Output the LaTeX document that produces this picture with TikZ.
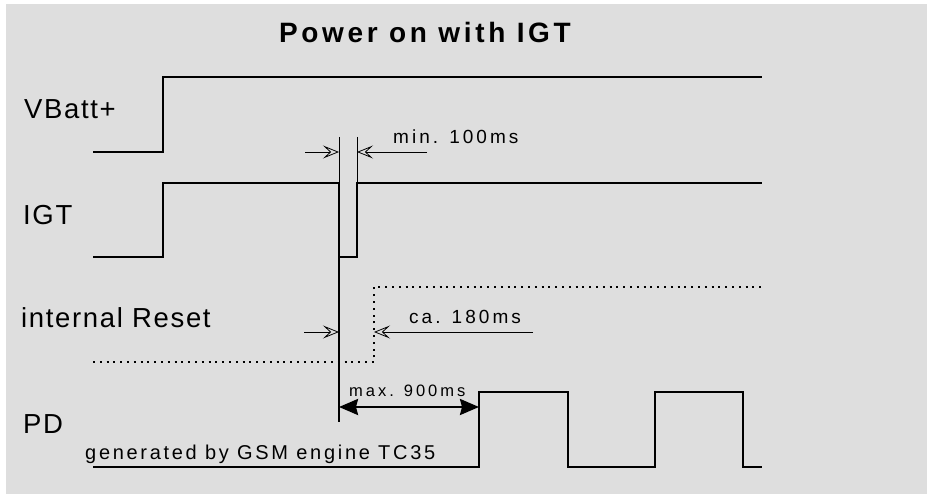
\documentclass[tikz,border=0pt]{standalone}
\usepackage{fontspec}
\setmainfont{Liberation Sans}
\usetikzlibrary{arrows.meta}
\definecolor{panelgray}{RGB}{222,222,222}

\begin{document}
\begin{tikzpicture}[
    x=1pt, y=-1pt,
    sig/.style={line width=1.5pt, line join=miter},
    rst/.style={line width=1.8pt, dash pattern=on 2pt off 4.8pt},
    guide/.style={line width=0.7pt},
    dimarrow/.style={line width=0.8pt, -{Stealth[length=16pt, width=13pt, inset=7pt, line width=0.8pt, open]}},
    spanarrow/.style={line width=2.4pt, {Stealth[length=19pt, width=16pt, inset=2pt]}-{Stealth[length=19pt, width=16pt, inset=2pt]}},
    title/.style={anchor=base west, inner sep=0pt, font=\fontsize{28}{32}\selectfont\bfseries\addfontfeatures{LetterSpace=13}},
    lbl/.style={anchor=base west, inner sep=0pt, font=\fontsize{27.5}{30}\selectfont\addfontfeatures{LetterSpace=6}},
    note/.style={anchor=base west, inner sep=0pt, font=\fontsize{19}{22}\selectfont\addfontfeatures{LetterSpace=16}}
]
\useasboundingbox (0,0) rectangle (927,494);
\fill[white] (0,0) rectangle (927,494);
\fill[panelgray] (6,4) rectangle (927,494);

\node[title] (head) at (279,43) {Power on with IGT};

\node[lbl] (vbatt) at (24,119) {VBatt+};
\node[lbl] (igt) at (23,225) {IGT};
\node[lbl] (reset) at (21,328) {internal Reset};
\node[lbl] (pd) at (23,434) {PD};
\node[lbl, font=\fontsize{20}{24}\selectfont\addfontfeatures{LetterSpace=13.5}] (gsm) at (85,459) {generated by GSM engine TC35};

\coordinate (igtfall) at (339,152);
\coordinate (igtrise) at (357,152);
\coordinate (minl) at (305,152);
\coordinate (minr) at (427,152);
\coordinate (rstl) at (339,332);
\coordinate (rstr) at (374,332);
\coordinate (cal) at (304,332);
\coordinate (car) at (533,332);
\coordinate (pdstart) at (339,407);
\coordinate (pdrise) at (479,407);

\draw[sig] (93,152) -- (163,152) -- (163,77) -- (762,77);
\draw[sig] (93,257) -- (163,257) -- (163,183) -- (339,183) -- (339,257) -- (357,257) -- (357,183) -- (762,183);
\draw[sig] (339,257) -- (339,422);
\draw[rst] (93,362) -- (374,362) -- (374,287) -- (762,287);
\draw[sig] (93,467) -- (479,467) -- (479,392) -- (568,392) -- (568,467) -- (655,467) -- (655,392) -- (743,392) -- (743,467) -- (762,467);

\draw[guide] (339,137) -- (339,183);
\draw[guide] (357,137) -- (357,183);

\draw[dimarrow] (minl) -- (igtfall);
\draw[dimarrow] (minr) -- (igtrise);
\node[note] (minlbl) at (393,144) {min. 100ms};

\draw[dimarrow] (cal) -- (rstl);
\draw[dimarrow] (car) -- (rstr);
\node[note] (calbl) at (409,324) {ca. 180ms};

\draw[spanarrow] (pdstart) -- (pdrise);
\node[note, font=\fontsize{16.5}{20}\selectfont\addfontfeatures{LetterSpace=18}] (maxlbl) at (349,397) {max. 900ms};

\end{tikzpicture}
\end{document}
